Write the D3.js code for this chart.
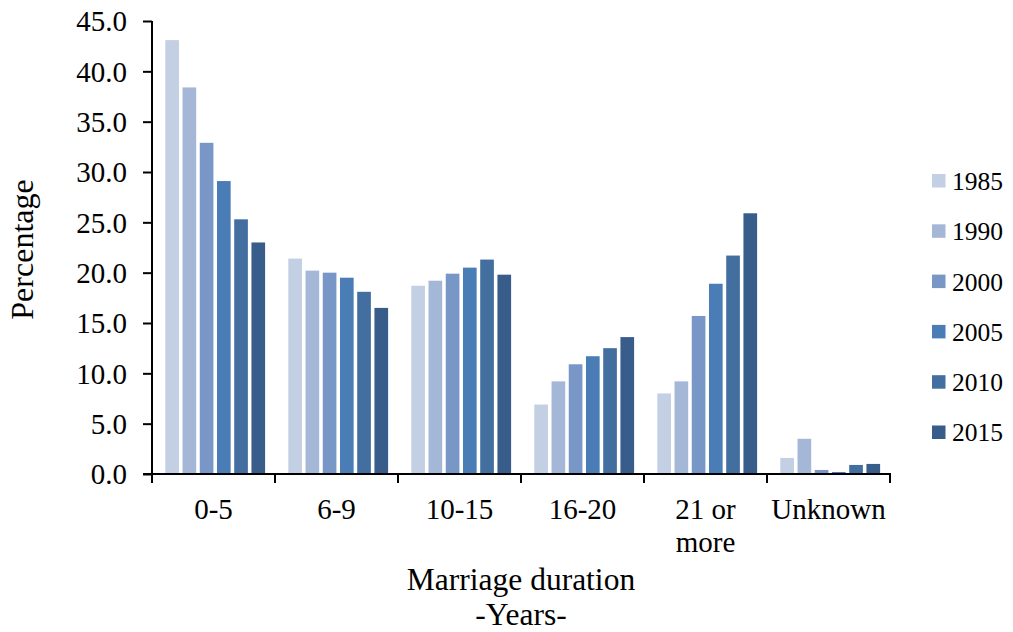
<!DOCTYPE html>
<html>
<head>
<meta charset="utf-8">
<script src="https://cdn.jsdelivr.net/npm/d3@7"></script>
<style>
  html, body { margin: 0; padding: 0; background: #fff; }
  svg text { font-family: "Liberation Serif", "Times New Roman", serif; fill: #000; }
</style>
</head>
<body>
<svg id="chart" width="1013" height="632"></svg>
<script>
// Share of divorces by marriage duration, per year
const categories = ["0-5", "6-9", "10-15", "16-20", "21 or more", "Unknown"];
const categoryLines = [["0-5"], ["6-9"], ["10-15"], ["16-20"], ["21 or", "more"], ["Unknown"]];
const years = ["1985", "1990", "2000", "2005", "2010", "2015"];

const v1985 = [43.1, 21.4, 18.7, 6.9, 8.0, 1.6];
const v1990 = [38.4, 20.2, 19.2, 9.2, 9.2, 3.5];
const v2000 = [32.9, 20.0, 19.9, 10.9, 15.7, 0.4];
const v2005 = [29.1, 19.5, 20.5, 11.7, 18.9, 0.2];
const v2010 = [25.3, 18.1, 21.3, 12.5, 21.7, 0.9];
const v2015 = [23.0, 16.5, 19.8, 13.6, 25.9, 1.0];
const seriesValues = [v1985, v1990, v2000, v2005, v2010, v2015];

const yTicks = [0, 5, 10, 15, 20, 25, 30, 35, 40, 45];
const colors = ["#c3cfe3", "#a4b7d7", "#7897c6", "#4a7db5", "#426ea0", "#385d8b"];

const svg = d3.select("#chart");
const plotLeft = 152, plotRight = 890, plotTop = 21, plotBottom = 474;

const x0 = d3.scaleBand().domain(categories).range([plotLeft, plotRight]).padding(0);
const groupPad = 13.3;
const x1 = d3.scaleBand().domain(years)
  .range([groupPad, x0.bandwidth() - groupPad + 3.4])
  .paddingInner(0.207).paddingOuter(0);
const y = d3.scaleLinear().domain([0, 45]).range([plotBottom, plotTop]);

// bars
const groups = svg.append("g").selectAll("g")
  .data(categories)
  .join("g")
  .attr("transform", d => `translate(${x0(d)},0)`);

groups.selectAll("rect")
  .data((c, i) => years.map((yr, s) => ({ yr, s, v: seriesValues[s][i] })))
  .join("rect")
  .attr("x", d => x1(d.yr))
  .attr("y", d => y(d.v))
  .attr("width", x1.bandwidth())
  .attr("height", d => y(0) - y(d.v))
  .attr("fill", d => colors[d.s]);

// y axis
const yAxis = d3.axisLeft(y).tickValues(yTicks).tickFormat(d3.format(".1f"))
  .tickSize(9).tickPadding(16);
const gy = svg.append("g").attr("transform", `translate(${plotLeft},0)`).call(yAxis);
gy.select(".domain").attr("stroke", "#000").attr("stroke-width", 2).attr("d", `M0,${plotTop}V${plotBottom}`);
gy.selectAll(".tick line").attr("stroke", "#000").attr("stroke-width", 2);
gy.selectAll(".tick text").style("font-size", "29px").attr("dy", "0.34em");

// x axis: ticks at band boundaries
const gx = svg.append("g").attr("transform", `translate(0,${plotBottom})`);
gx.append("line").attr("x1", plotLeft - 9).attr("x2", plotRight + 1).attr("y1", 0).attr("y2", 0)
  .attr("stroke", "#000").attr("stroke-width", 2);
const bounds = categories.map(c => x0(c)).concat([x0(categories[categories.length - 1]) + x0.bandwidth()]);
gx.selectAll("line.tk").data(bounds).join("line").attr("class", "tk")
  .attr("x1", d => d).attr("x2", d => d).attr("y1", 0).attr("y2", 9)
  .attr("stroke", "#000").attr("stroke-width", 2);

const xl = gx.selectAll("text.cat").data(categories).join("text").attr("class", "cat")
  .attr("text-anchor", "middle")
  .attr("x", d => x0(d) + x0.bandwidth() / 2)
  .style("font-size", "29px");
xl.each(function (d, i) {
  const t = d3.select(this);
  categoryLines[i].forEach((ln, k) => {
    t.append("tspan").attr("x", x0(d) + x0.bandwidth() / 2).attr("y", 45 + k * 33).text(ln);
  });
});

// axis titles
svg.append("text").attr("text-anchor", "middle")
  .attr("transform", `translate(33,${(plotTop + plotBottom) / 2 + 2}) rotate(-90)`)
  .style("font-size", "32px").text("Percentage");

const xt = svg.append("text").attr("text-anchor", "middle").style("font-size", "31.5px");
xt.append("tspan").attr("x", (plotLeft + plotRight) / 2).attr("y", 590).text("Marriage duration");
xt.append("tspan").attr("x", (plotLeft + plotRight) / 2).attr("y", 625).text("-Years-");

// legend
const legend = svg.append("g").selectAll("g").data(years).join("g")
  .attr("transform", (d, i) => `translate(932,${174 + i * 50.3})`);
legend.append("rect").attr("width", 13.5).attr("height", 13.5).attr("fill", (d, i) => colors[i]);
legend.append("text").attr("x", 20).attr("y", 7).attr("dy", "0.35em")
  .style("font-size", "25.5px").text(d => d);
</script>
</body>
</html>
